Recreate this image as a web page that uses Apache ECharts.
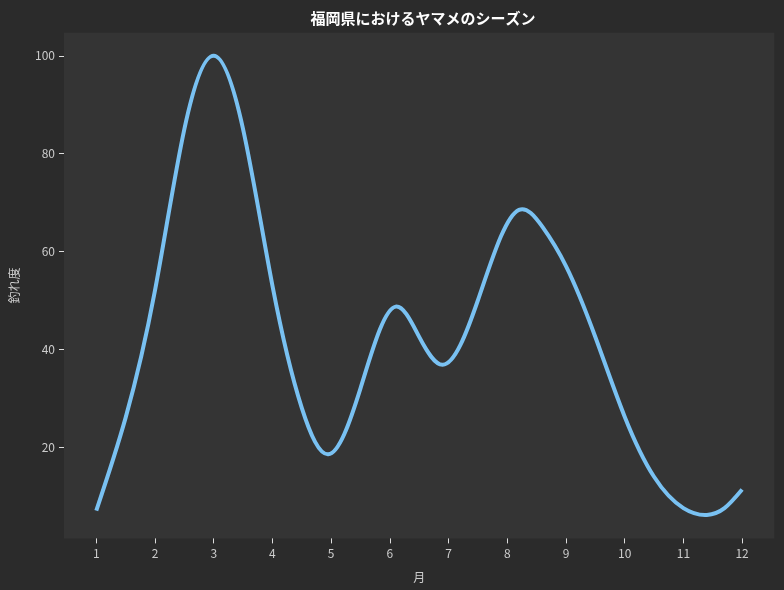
<!DOCTYPE html>
<html>
<head>
<meta charset="utf-8">
<script src="https://cdn.jsdelivr.net/npm/echarts@6/dist/echarts.min.js"></script>
<style>
html,body{margin:0;padding:0;background:#2b2b2b;}
#chart{width:784px;height:590px;}
</style>
</head>
<body>
<div id="chart"></div>
<script>
// tick labels (months)
const months = [1,2,3,4,5,6,7,8,9,10,11,12];
const yTicks = [20,40,60,80,100];
// curve positions (month) and values
const curveMonth = [1, 1.5, 2, 2.5, 3, 3.5, 4, 4.5, 4.95, 5.5, 6.1, 6.5, 6.9, 7.5, 8.2, 8.6, 9, 9.5, 10, 10.5, 11, 11.4, 11.7, 12];
const curveScore = [7, 26, 52, 85, 100, 85, 53, 28, 18.5, 32, 48.7, 42.5, 36.8, 50, 68.5, 65, 57, 42.5, 26.2, 13.9, 7.5, 6.1, 7.5, 11.3];
const titleText = '福岡県におけるヤマメのシーズン';
const xName = '月';
const yName = '釣れ度';

// natural cubic spline path through pixel points, written as bezier segments
function splinePath(p){
  const n = p.length, h = [], d = [];
  for (let i = 0; i < n - 1; i++) {
    h[i] = p[i+1][0] - p[i][0];
    d[i] = (p[i+1][1] - p[i][1]) / h[i];
  }
  // solve tridiagonal system for second derivatives (M0 = Mn-1 = 0)
  const M = new Array(n).fill(0);
  const a = [], b = [], c = [], r = [];
  for (let i = 1; i < n - 1; i++) {
    a.push(h[i-1]); b.push(2 * (h[i-1] + h[i])); c.push(h[i]); r.push(6 * (d[i] - d[i-1]));
  }
  const k = b.length;
  for (let i = 1; i < k; i++) {
    const w = a[i] / b[i-1];
    b[i] -= w * c[i-1];
    r[i] -= w * r[i-1];
  }
  const sol = new Array(k);
  sol[k-1] = r[k-1] / b[k-1];
  for (let i = k - 2; i >= 0; i--) sol[i] = (r[i] - c[i] * sol[i+1]) / b[i];
  for (let i = 0; i < k; i++) M[i+1] = sol[i];
  const m = new Array(n);
  for (let i = 0; i < n - 1; i++) m[i] = d[i] - h[i] * (2 * M[i] + M[i+1]) / 6;
  m[n-1] = d[n-2] + h[n-2] * (M[n-2] + 2 * M[n-1]) / 6;
  let s = 'M' + p[0][0] + ' ' + p[0][1];
  for (let i = 0; i < n - 1; i++) {
    const dx = h[i] / 3;
    s += ' C' + (p[i][0] + dx) + ' ' + (p[i][1] + m[i] * dx) + ' ' +
         (p[i+1][0] - dx) + ' ' + (p[i+1][1] - m[i+1] * dx) + ' ' +
         p[i+1][0] + ' ' + p[i+1][1];
  }
  return s;
}

const font = '"Noto Sans CJK JP", "Noto Sans", sans-serif';
const chart = echarts.init(document.getElementById('chart'), null, {renderer:'canvas'});
chart.setOption({
  backgroundColor:'#2b2b2b',
  animation:false,
  title:{text:titleText,left:418,top:6,textAlign:'center',
    textStyle:{color:'#ffffff',fontSize:15,fontWeight:'bold',fontFamily:font}},
  grid:{left:61.6,right:9.6,top:32.8,bottom:51.6,show:true,backgroundColor:'#343434',borderWidth:0},
  xAxis:{type:'value',min:0.45,max:12.55,name:xName,nameLocation:'middle',nameGap:33,
    nameTextStyle:{color:'#cccccc',fontSize:12,fontFamily:font},
    axisLine:{show:false},splitLine:{show:false},
    axisTick:{show:true,length:5,lineStyle:{color:'#dddddd'},customValues:months},
    axisLabel:{color:'#cccccc',fontSize:12,fontFamily:font,margin:9,customValues:months}},
  yAxis:{type:'value',min:1.3,max:104.7,name:yName,nameLocation:'middle',nameGap:44,
    nameTextStyle:{color:'#cccccc',fontSize:12,fontFamily:font},
    axisLine:{show:false},splitLine:{show:false},
    axisTick:{show:true,length:5,lineStyle:{color:'#dddddd'},customValues:yTicks},
    axisLabel:{color:'#cccccc',fontSize:12,fontFamily:font,margin:9,customValues:yTicks}},
  series:[{
    type:'custom',
    coordinateSystem:'cartesian2d',
    data:curveMonth.map((m,i)=>[m,curveScore[i]]),
    encode:{x:0,y:1},
    renderItem:function(params, api){
      if (params.dataIndex !== 0) return null;
      const pts = curveMonth.map((m,i)=>api.coord([m, curveScore[i]]));
      return {
        type:'path',
        shape:{pathData:splinePath(pts)},
        style:{stroke:'#79c1f2',lineWidth:4,fill:null,lineJoin:'round',lineCap:'butt'}
      };
    }
  }]
});
</script>
</body>
</html>
